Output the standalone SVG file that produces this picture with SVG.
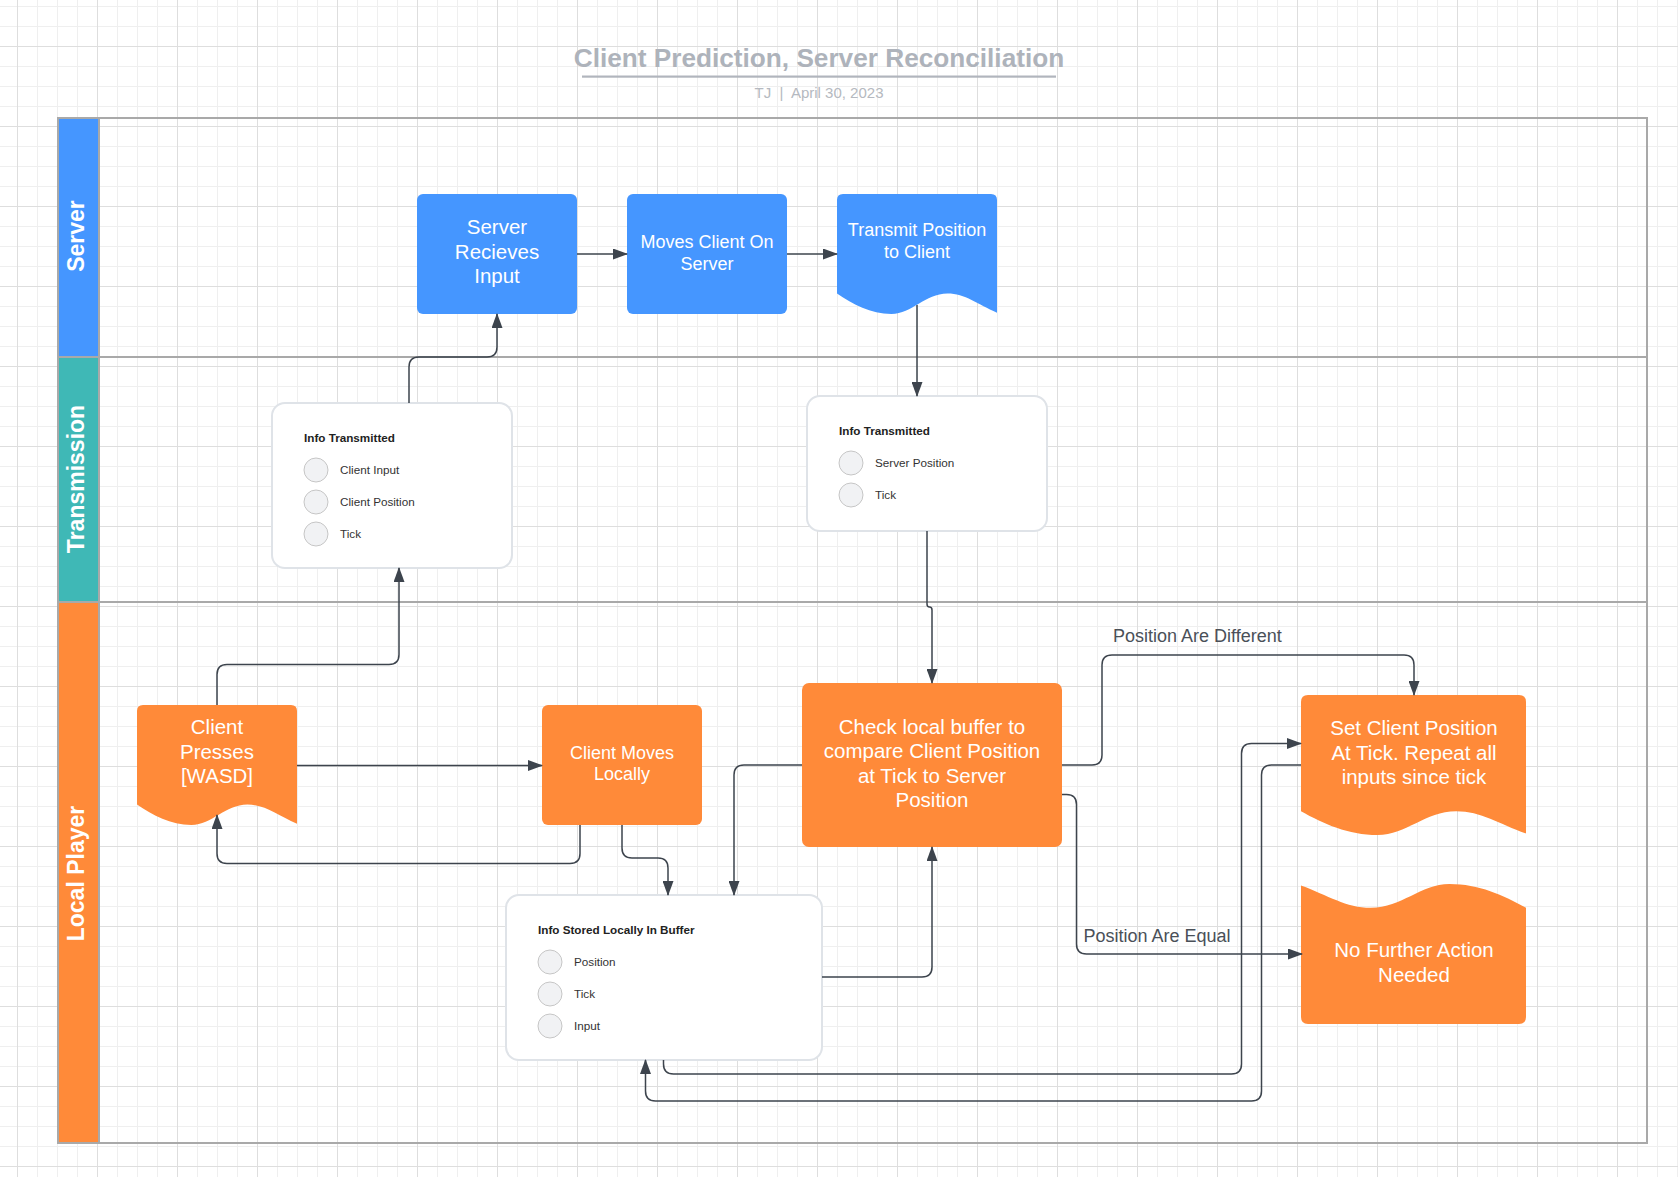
<svg xmlns="http://www.w3.org/2000/svg" width="1678" height="1177" viewBox="0 0 1678 1177">
<defs>
<pattern id="grid" patternUnits="userSpaceOnUse" x="17" y="46" width="80" height="80">
<rect width="80" height="80" fill="#ffffff"/>
<path d="M20.5 0V80M40.5 0V80M60.5 0V80M0 20.5H80M0 40.5H80M0 60.5H80" stroke="#efefef" stroke-width="1"/>
<path d="M0.5 0V80M0 0.5H80" stroke="#dedede" stroke-width="1"/>
</pattern>
<marker id="arr" viewBox="0 0 15 11" refX="14" refY="5.5" markerWidth="15" markerHeight="11" markerUnits="userSpaceOnUse" orient="auto">
<path d="M0,0 L15,5.5 L0,11 Z" fill="#3d444d"/>
</marker>
<path id="doc160" d="M0,6 Q0,0 6,0 H154 Q160,0 160,6 V118.8 C140.8,110.4 128,99.6 110.4,99.6 C88,99.6 75.2,120 54.4,120 C33.6,120 16,110.4 0,99.6 Z"/>
<path id="doc225" d="M0,7 Q0,0 7,0 H218 Q225,0 225,7 V138.6 C198,128.8 180,116.2 155.25,116.2 C123.75,116.2 105.75,140 76.5,140 C47.25,140 22.5,128.8 0,116.2 Z"/>
</defs>
<style>
.t{font-family:"Liberation Sans",Arial,sans-serif}
.title{font-size:26.2px;font-weight:bold;fill:#aeb3bb}
.sub{font-size:15px;fill:#b5b9c0}
.lane{font-size:23px;font-weight:bold;fill:#ffffff}
.bt{font-size:20.5px;fill:#ffffff;text-anchor:middle}
.bs{font-size:18px;fill:#ffffff;text-anchor:middle}
.blue{fill:#4596ff}
.orange{fill:#ff8a39}
.card{fill:#ffffff;stroke:#dfe3e8;stroke-width:2}
.dot{fill:#f1f2f4;stroke:#c6c6c6;stroke-width:1}
.ch{font-size:11.7px;font-weight:bold;fill:#222222}
.ci{font-size:11.7px;fill:#333333}
.lbl{font-size:18px;fill:#4a5058}
.edge{fill:none;stroke:#3d444d;stroke-width:1.5}
.frame{fill:none;stroke:#a9a9a9;stroke-width:2}
</style>
<rect width="1678" height="1177" fill="url(#grid)"/>

<g id="title">
<text class="t title" x="819" y="67" text-anchor="middle">Client Prediction, Server Reconciliation</text>
<rect x="582" y="75.5" width="474" height="2.2" fill="#b1b5bd"/>
<text class="t sub" x="819" y="97.5" text-anchor="middle" xml:space="preserve">TJ  |  April 30, 2023</text>
</g>

<g id="swimlanes">
<rect x="58" y="118" width="41" height="239" fill="#4596ff"/>
<rect x="58" y="357" width="41" height="245" fill="#3fb8b6"/>
<rect x="58" y="602" width="41" height="541" fill="#ff8a39"/>
<rect class="frame" x="58" y="118" width="1589" height="1025"/>
<path class="frame" d="M99 118V1143M58 357H1647M58 602H1647"/>
<text class="t lane" transform="translate(84,236) rotate(-90)" text-anchor="middle">Server</text>
<text class="t lane" transform="translate(84,479) rotate(-90)" text-anchor="middle">Transmission</text>
<text class="t lane" transform="translate(84,873.5) rotate(-90)" text-anchor="middle">Local Player</text>
</g>

<g id="server-recieves-input">
<rect class="blue" x="417" y="194" width="160" height="120" rx="6"/>
<text class="t bt" x="497" y="234.2">Server</text>
<text class="t bt" x="497" y="258.8">Recieves</text>
<text class="t bt" x="497" y="283.4">Input</text>
</g>

<g id="moves-client-on-server">
<rect class="blue" x="627" y="194" width="160" height="120" rx="6"/>
<text class="t bs" x="707" y="248.2">Moves Client On</text>
<text class="t bs" x="707" y="269.6">Server</text>
</g>

<g id="transmit-position">
<use href="#doc160" class="blue" transform="translate(837,194)"/>
<text class="t bs" x="917" y="236.3">Transmit Position</text>
<text class="t bs" x="917" y="258">to Client</text>
</g>

<g id="info-transmitted-client">
<rect class="card" x="272" y="403" width="240" height="165" rx="13"/>
<text class="t ch" x="304" y="441.6">Info Transmitted</text>
<circle class="dot" cx="316" cy="470" r="12"/>
<circle class="dot" cx="316" cy="502" r="12"/>
<circle class="dot" cx="316" cy="534" r="12"/>
<text class="t ci" x="340" y="474.2">Client Input</text>
<text class="t ci" x="340" y="506.2">Client Position</text>
<text class="t ci" x="340" y="538.2">Tick</text>
</g>

<g id="info-transmitted-server">
<rect class="card" x="807" y="396" width="240" height="135" rx="13"/>
<text class="t ch" x="839" y="434.6">Info Transmitted</text>
<circle class="dot" cx="851" cy="463" r="12"/>
<circle class="dot" cx="851" cy="495" r="12"/>
<text class="t ci" x="875" y="467.2">Server Position</text>
<text class="t ci" x="875" y="499.2">Tick</text>
</g>

<g id="client-presses">
<use href="#doc160" class="orange" transform="translate(137,705)"/>
<text class="t bt" x="217" y="733.9">Client</text>
<text class="t bt" x="217" y="758.5">Presses</text>
<text class="t bt" x="217" y="783.1">[WASD]</text>
</g>

<g id="client-moves-locally">
<rect class="orange" x="542" y="705" width="160" height="120" rx="6"/>
<text class="t bs" x="622" y="759">Client Moves</text>
<text class="t bs" x="622" y="780.3">Locally</text>
</g>

<g id="check-local-buffer">
<rect class="orange" x="802" y="683" width="260" height="164" rx="7"/>
<text class="t bt" x="932" y="733.9">Check local buffer to</text>
<text class="t bt" x="932" y="758.3">compare Client Position</text>
<text class="t bt" x="932" y="782.9">at Tick to Server</text>
<text class="t bt" x="932" y="807.2">Position</text>
</g>

<g id="set-client-position">
<use href="#doc225" class="orange" transform="translate(1301,695)"/>
<text class="t bt" x="1414" y="734.5">Set Client Position</text>
<text class="t bt" x="1414" y="759.5">At Tick. Repeat all</text>
<text class="t bt" x="1414" y="783.9">inputs since tick</text>
</g>

<g id="no-further-action">
<use href="#doc225" class="orange" transform="translate(1526,1024) rotate(180)"/>
<text class="t bt" x="1414" y="957.2">No Further Action</text>
<text class="t bt" x="1414" y="981.5">Needed</text>
</g>

<g id="info-stored-locally">
<rect class="card" x="506" y="895" width="316" height="165" rx="13"/>
<text class="t ch" x="538" y="933.6">Info Stored Locally In Buffer</text>
<circle class="dot" cx="550" cy="962" r="12"/>
<circle class="dot" cx="550" cy="994" r="12"/>
<circle class="dot" cx="550" cy="1026" r="12"/>
<text class="t ci" x="574" y="966.2">Position</text>
<text class="t ci" x="574" y="998.2">Tick</text>
<text class="t ci" x="574" y="1030.2">Input</text>
</g>

<g id="connectors">
<path class="edge" marker-end="url(#arr)" d="M577,254 H627"/>
<path class="edge" marker-end="url(#arr)" d="M787,254 H837"/>
<path class="edge" marker-end="url(#arr)" d="M917,305 V396"/>
<path class="edge" marker-end="url(#arr)" d="M927,531 V604 Q927,607 929.5,607 Q932,607 932,610 V683"/>
<path class="edge" marker-end="url(#arr)" d="M217,705 V674.5 Q217,664.5 227,664.5 H389 Q399,664.5 399,654.5 V568"/>
<path class="edge" marker-end="url(#arr)" d="M409,403 V367 Q409,357 419,357 H487 Q497,357 497,347 V314"/>
<path class="edge" marker-end="url(#arr)" d="M297,765.5 H542"/>
<path class="edge" marker-end="url(#arr)" d="M580,825 V853.6 Q580,863.6 570,863.6 H227 Q217,863.6 217,853.6 V815"/>
<path class="edge" marker-end="url(#arr)" d="M622,825 V848 Q622,858 632,858 H658 Q668,858 668,868 V895"/>
<path class="edge" marker-end="url(#arr)" d="M802,765 H744 Q734,765 734,775 V895"/>
<path class="edge" marker-end="url(#arr)" d="M822,977 H922 Q932,977 932,967 V847"/>
<path class="edge" marker-end="url(#arr)" d="M1062,765 H1092 Q1102,765 1102,755 V665 Q1102,655 1112,655 H1404 Q1414,655 1414,665 V695"/>
<path class="edge" marker-end="url(#arr)" d="M1062,794.5 H1066.5 Q1076.5,794.5 1076.5,804.5 V944 Q1076.5,954 1086.5,954 H1302"/>
<path class="edge" marker-end="url(#arr)" d="M663.5,1060 V1064 Q663.5,1074 673.5,1074 H1231.5 Q1241.5,1074 1241.5,1064 V753.5 Q1241.5,743.5 1251.5,743.5 H1301"/>
<path class="edge" marker-end="url(#arr)" d="M1301,765 H1271.5 Q1261.5,765 1261.5,775 V1091 Q1261.5,1101 1251.5,1101 H655.5 Q645.5,1101 645.5,1091 V1060"/>
<text class="t lbl" x="1113" y="642.3">Position Are Different</text>
<text class="t lbl" x="1083.5" y="942">Position Are Equal</text>
</g>
</svg>
